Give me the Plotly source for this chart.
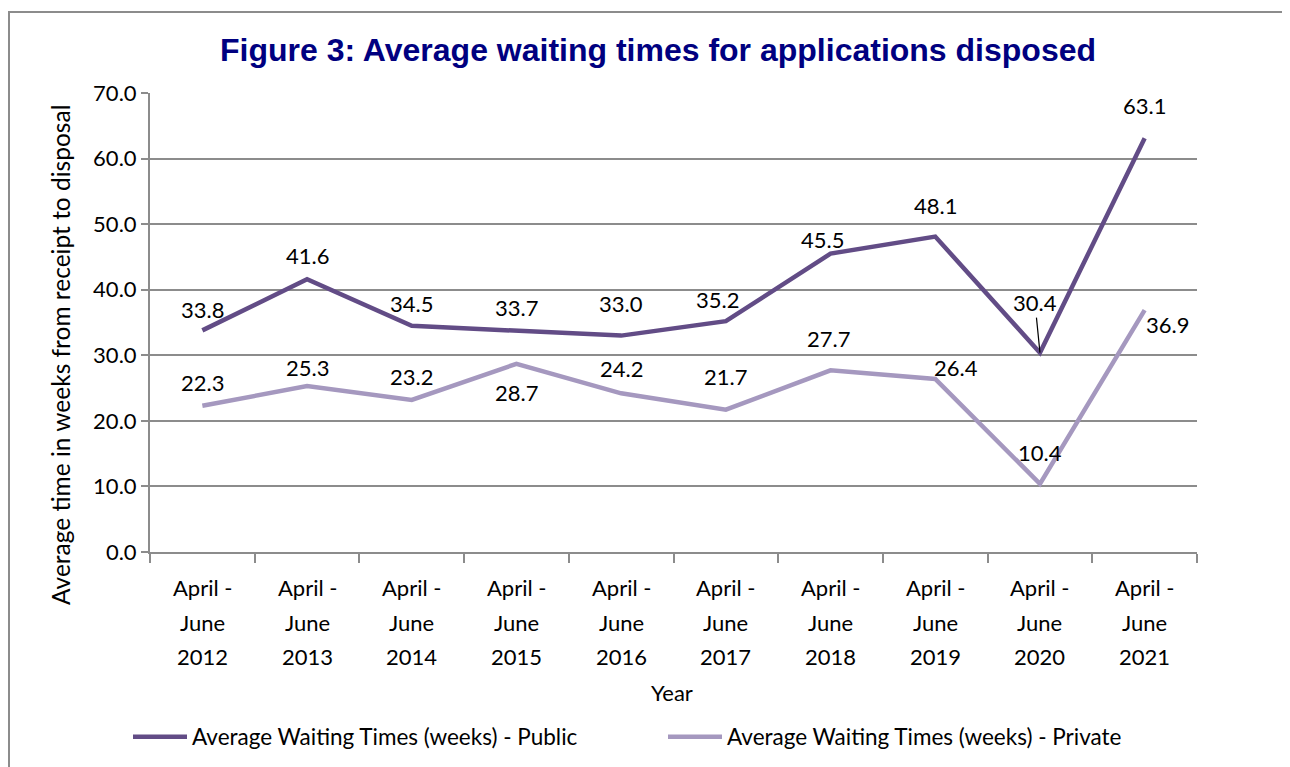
import plotly.graph_objects as go

# ---- data ----
years = ["2012", "2013", "2014", "2015", "2016", "2017", "2018", "2019", "2020", "2021"]
categories = ["April - June " + y for y in years]
public = [33.8, 41.6, 34.5, 33.7, 33.0, 35.2, 45.5, 48.1, 30.4, 63.1]
private = [22.3, 25.3, 23.2, 28.7, 24.2, 21.7, 27.7, 26.4, 10.4, 36.9]
y_ticks = [0, 10, 20, 30, 40, 50, 60, 70]
series_names = ["Average Waiting Times (weeks) - Public",
                "Average Waiting Times (weeks) - Private"]

# ---- label placement styles (pixel offsets from the point) ----
pub_dx = [0, 0, 0, 0, 0, -8, -8, 0, -5, 0]
pub_dy = [21, 24, 22, 24, 32, 22, 14, 31, 50, 33]
pri_dx = [0, 0, 0, 0, 0, 0, -2, 21, 0, 23]
pri_dy = [23, 19, 23, -29, 25, 33, 32, 11, 31, -14]
leader = [False] * 8 + [True, False]

OFF = 8  # page body margin
W, H = 1290, 767
L, R, T, B = 150 - OFF, 1197 - OFF, 93 - OFF, 552 - OFF
FONT = "Lato"
PUB_C = "#624C86"
PRI_C = "#A598BF"
GRID = "#8C8C8C"

def px_y(p):
    return (B - (p - OFF)) / (B - T)

def px_x(p):
    return ((p - OFF) - L) / (R - L)

fig = go.Figure()
fig.add_trace(go.Scatter(x=categories, y=public, mode="lines", name=series_names[0],
                         line=dict(color=PUB_C, width=4.5)))
fig.add_trace(go.Scatter(x=categories, y=private, mode="lines", name=series_names[1],
                         line=dict(color=PRI_C, width=4.5)))

ann = []
lab_font = dict(family=FONT, size=22, color="black")
for i, c in enumerate(categories):
    if leader[i]:
        ann.append(dict(x=c, y=public[i], xref="x", yref="y", text=f"{public[i]:.1f}",
                        showarrow=True, arrowhead=0, arrowwidth=1.2, arrowcolor="black",
                        ax=pub_dx[i], ay=-pub_dy[i], standoff=0, font=lab_font))
    else:
        ann.append(dict(x=c, y=public[i], xref="x", yref="y", text=f"{public[i]:.1f}",
                        showarrow=False, xshift=pub_dx[i], yshift=pub_dy[i], font=lab_font))
    ann.append(dict(x=c, y=private[i], xref="x", yref="y", text=f"{private[i]:.1f}",
                    showarrow=False, xshift=pri_dx[i], yshift=pri_dy[i], font=lab_font))

# multi-line category labels (Excel-like line spacing)
row_px = [587, 622, 656]
for i, c in enumerate(categories):
    parts = ["April -", "June", years[i]]
    for r, txt in enumerate(parts):
        ann.append(dict(x=c, xref="x", y=px_y(row_px[r]), yref="paper", text=txt,
                        showarrow=False, yanchor="middle", font=lab_font))

# axis titles
ann.append(dict(x=px_x(672), xref="paper", y=px_y(692), yref="paper", text="Year",
                showarrow=False, yanchor="middle", font=lab_font))
ann.append(dict(x=px_x(60), xref="paper", y=px_y(355), yref="paper",
                text="Average time in weeks from receipt to disposal", textangle=-90,
                showarrow=False, xanchor="center", yanchor="middle",
                font=dict(family=FONT, size=24.5, color="black")))

fig.update_layout(
    width=W, height=H,
    margin=dict(l=L, r=W - R, t=T, b=H - B),
    paper_bgcolor="white", plot_bgcolor="white",
    title=dict(text="<b>Figure 3: Average waiting times for applications disposed</b>",
               x=(658 - OFF) / W, xanchor="center", y=1 - (50 - OFF) / H, yanchor="middle",
               font=dict(family="Liberation Sans", size=32, color="#000080")),
    showlegend=True,
    legend=dict(orientation="h", x=px_x(128), xanchor="left",
                y=px_y(737), yanchor="middle",
                font=dict(family=FONT, size=22.5, color="black"),
                itemwidth=54,
                entrywidth=466, entrywidthmode="pixels", bgcolor="rgba(0,0,0,0)"),
    annotations=ann,
    shapes=[dict(type="rect", xref="paper", yref="paper",
                 x0=px_x(9), x1=px_x(1310),
                 y0=px_y(790), y1=px_y(12),
                 line=dict(color="#8C8C8C", width=2), fillcolor="rgba(0,0,0,0)", layer="below")],
)

fig.update_xaxes(type="category", showticklabels=False, showgrid=False,
                 showline=True, linecolor=GRID, linewidth=2,
                 ticks="outside", tickson="boundaries", ticklen=9, tickcolor=GRID, tickwidth=2,
                 range=[-0.5, len(categories) - 0.5], zeroline=False)
fig.update_yaxes(range=[0, 70], tickvals=y_ticks, tickformat=".1f",
                 showgrid=True, gridcolor=GRID, gridwidth=2,
                 showline=True, linecolor=GRID, linewidth=2,
                 ticks="outside", ticklen=7, tickcolor=GRID, tickwidth=2,
                 tickfont=dict(family=FONT, size=22, color="black"), zeroline=False)

fig.write_html("out.html")
